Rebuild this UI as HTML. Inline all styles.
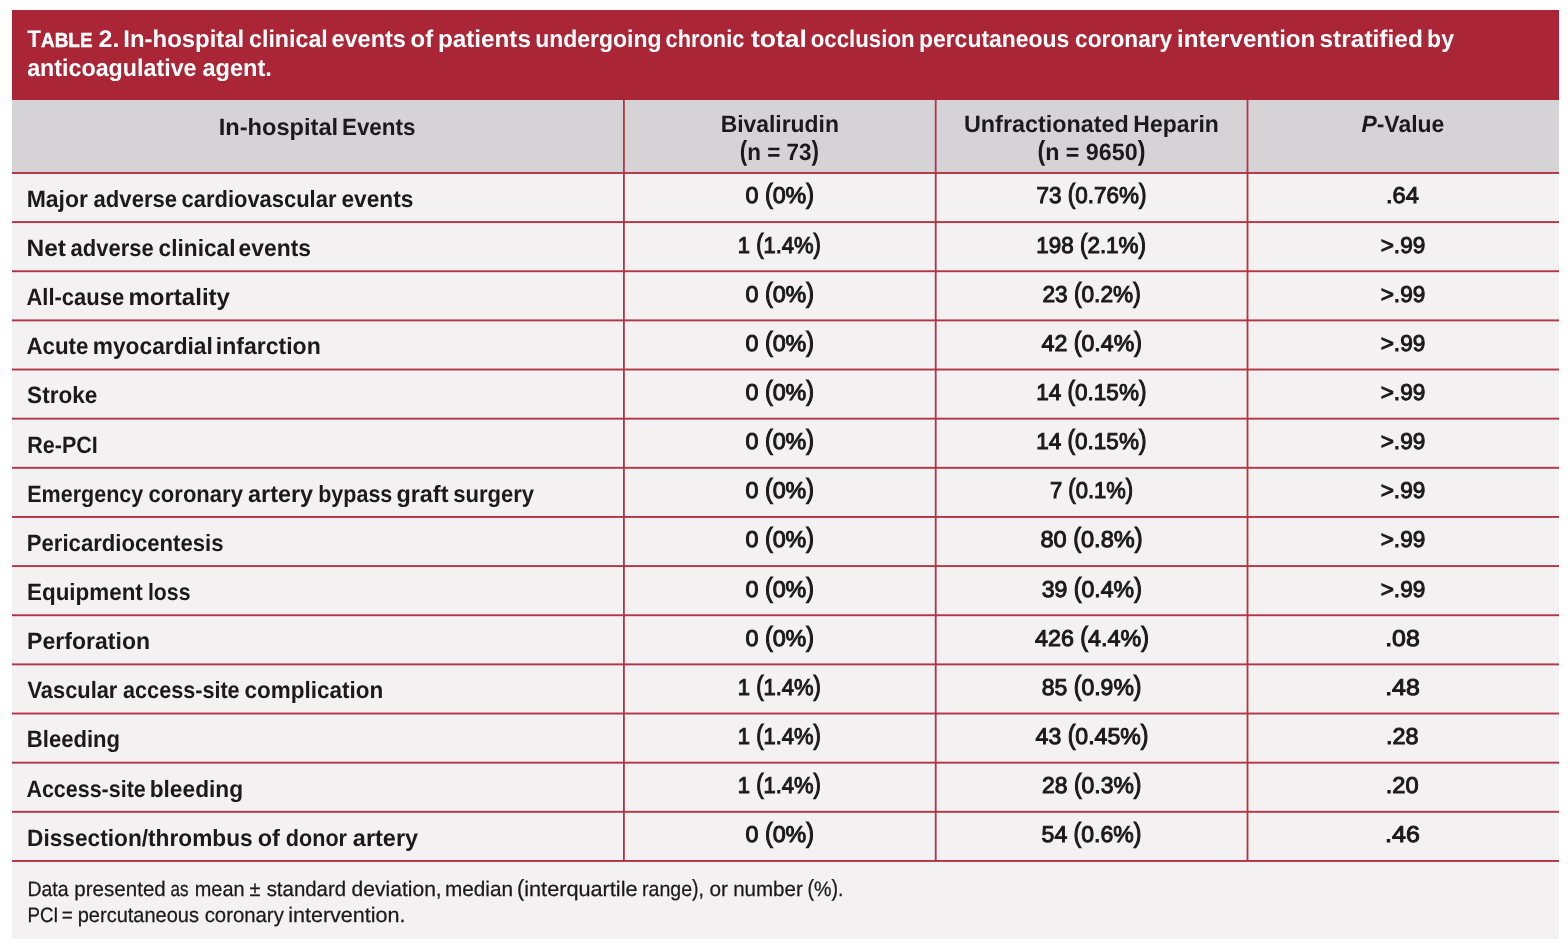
<!DOCTYPE html>
<html lang="en"><head><meta charset="utf-8"><title>Table 2</title>
<style>
html,body{margin:0;padding:0;background:#fff;}
body{width:1568px;height:950px;position:relative;overflow:hidden;font-family:"Liberation Sans",sans-serif;color:#1a1a1a;}
#bg{position:absolute;left:0;top:0;}
.t{position:absolute;white-space:nowrap;line-height:1;display:block;text-rendering:geometricPrecision;margin:0;padding:0;}
.l{transform-origin:0 50%;}
.c{transform-origin:50% 50%;}
.b{font-weight:bold;}
.w{color:#fff;}
.r{font-weight:normal;-webkit-text-stroke:0.25px #1a1a1a;}
.m{font-weight:normal;-webkit-text-stroke:1.0px #1a1a1a;}
.pr{display:inline-block;line-height:1;transform-origin:50% 84.65%;transform:scaleY(1.2);}
.b .pr{transform:scaleY(1.17);}
.r .pr{transform:scaleY(1.12);}
.sc{font-size:0.84em;-webkit-text-stroke:0.45px #fff;}
</style></head><body>
<svg id="bg" width="1568" height="950" viewBox="0 0 1568 950"><rect x="12" y="100" width="1547" height="839" fill="#F3F1F2"/><rect x="12" y="100" width="1547" height="73" fill="#D5D3D6"/><rect x="12" y="10" width="1547" height="90" fill="#AA2535"/><rect x="623.00" y="100" width="1.8" height="761" fill="#B33445"/><rect x="934.80" y="100" width="1.8" height="761" fill="#B33445"/><rect x="1246.60" y="100" width="1.8" height="761" fill="#B33445"/><rect x="12" y="172.00" width="1547" height="1.9" fill="#B33445"/><rect x="12" y="221.14" width="1547" height="1.9" fill="#B33445"/><rect x="12" y="270.29" width="1547" height="1.9" fill="#B33445"/><rect x="12" y="319.43" width="1547" height="1.9" fill="#B33445"/><rect x="12" y="368.57" width="1547" height="1.9" fill="#B33445"/><rect x="12" y="417.71" width="1547" height="1.9" fill="#B33445"/><rect x="12" y="466.86" width="1547" height="1.9" fill="#B33445"/><rect x="12" y="516.00" width="1547" height="1.9" fill="#B33445"/><rect x="12" y="565.14" width="1547" height="1.9" fill="#B33445"/><rect x="12" y="614.29" width="1547" height="1.9" fill="#B33445"/><rect x="12" y="663.43" width="1547" height="1.9" fill="#B33445"/><rect x="12" y="712.57" width="1547" height="1.9" fill="#B33445"/><rect x="12" y="761.71" width="1547" height="1.9" fill="#B33445"/><rect x="12" y="810.86" width="1547" height="1.9" fill="#B33445"/><rect x="12" y="860.00" width="1547" height="1.9" fill="#B33445"/></svg>
<div id="t1_0" class="t l p0 b w" style="left:27px;top:28px;font-size:24.1px;transform:translateX(0.32px) scaleX(0.9341);"><span class="T">T</span><span class="sc">ABLE</span></div>
<div id="t1_1" class="t l p1 b w" style="left:98px;top:28px;font-size:24.1px;transform:translateX(0.55px) scaleX(1.0354);">2.</div>
<div id="t1_2" class="t l p0 b w" style="left:123px;top:28px;font-size:24.1px;transform:translateX(0.33px) scaleX(0.9921);">In-hospital</div>
<div id="t1_3" class="t l p1 b w" style="left:249px;top:28px;font-size:24.1px;transform:translateX(0.05px) scaleX(0.9638);">clinical</div>
<div id="t1_4" class="t l p0 b w" style="left:331px;top:28px;font-size:24.1px;transform:translateX(0.44px) scaleX(0.9755);">events</div>
<div id="t1_5" class="t l p1 b w" style="left:410px;top:28px;font-size:24.1px;transform:translateX(0.54px) scaleX(0.9914);">of</div>
<div id="t1_6" class="t l p0 b w" style="left:437px;top:28px;font-size:24.1px;transform:translateX(0.91px) scaleX(1.0068);">patients</div>
<div id="t1_7" class="t l p1 b w" style="left:535px;top:28px;font-size:24.1px;transform:translateX(0.15px) scaleX(0.9533);">undergoing</div>
<div id="t1_8" class="t l p0 b w" style="left:665px;top:28px;font-size:24.1px;transform:translateX(0.61px) scaleX(0.9045);">chronic</div>
<div id="t1_9" class="t l p1 b w" style="left:751px;top:28px;font-size:24.1px;transform:translateX(0.00px) scaleX(1.0974);">total</div>
<div id="t1_10" class="t l p0 b w" style="left:810px;top:28px;font-size:24.1px;transform:translateX(0.78px) scaleX(0.9227);">occlusion</div>
<div id="t1_11" class="t l p1 b w" style="left:918px;top:28px;font-size:24.1px;transform:translateX(0.93px) scaleX(0.9519);">percutaneous</div>
<div id="t1_12" class="t l p0 b w" style="left:1075px;top:28px;font-size:24.1px;transform:translateX(0.12px) scaleX(0.9415);">coronary</div>
<div id="t1_13" class="t l p1 b w" style="left:1177px;top:28px;font-size:24.1px;transform:translateX(0.11px) scaleX(1.0027);">intervention</div>
<div id="t1_14" class="t l p0 b w" style="left:1319px;top:28px;font-size:24.1px;transform:translateX(0.47px) scaleX(1.0161);">stratified</div>
<div id="t1_15" class="t l p1 b w" style="left:1427px;top:28px;font-size:24.1px;transform:translateX(0.11px) scaleX(0.9540);">by</div>
<div id="t2_0" class="t l p0 b w" style="left:27px;top:57px;font-size:24.1px;transform:translateX(0.18px) scaleX(0.9655);">anticoagulative</div>
<div id="t2_1" class="t l p1 b w" style="left:202px;top:57px;font-size:24.1px;transform:translateX(0.38px) scaleX(0.9791);">agent.</div>
<div id="h1_0" class="t l p0 b" style="left:218px;top:117px;font-size:23.6px;transform:translateX(0.69px) scaleX(1.0017);">In-hospital</div>
<div id="h1_1" class="t l p1 b" style="left:341px;top:117px;font-size:23.6px;transform:translateX(0.90px) scaleX(0.9516);">Events</div>
<div id="h2a" class="t c p0 b" style="left:779px;top:114px;font-size:23.6px;transform:translateX(-50%) translateX(0.78px) scaleX(0.9700);">Bivalirudin</div>
<div id="h2b" class="t c p1 b" style="left:779px;top:142px;font-size:23.6px;transform:translateX(-50%) translateX(0.31px) scaleX(0.9513);"><span class="pr">(</span>n = 73<span class="pr">)</span></div>
<div id="h3a_0" class="t l p0 b" style="left:964px;top:114px;font-size:23.6px;transform:translateX(0.00px) scaleX(0.9895);">Unfractionated</div>
<div id="h3a_1" class="t l p1 b" style="left:1133px;top:114px;font-size:23.6px;transform:translateX(0.33px) scaleX(0.9731);">Heparin</div>
<div id="h3b" class="t c p0 b" style="left:1091px;top:142px;font-size:23.6px;transform:translateX(-50%) translateX(0.39px) scaleX(0.9861);"><span class="pr">(</span>n = 9650<span class="pr">)</span></div>
<div id="h4" class="t c p1 b" style="left:1402px;top:114px;font-size:23.6px;transform:translateX(-50%) translateX(0.87px) scaleX(0.9729);"><i>P</i>-Value</div>
<div id="r0a_0" class="t l p0 b" style="left:26px;top:189px;font-size:23.6px;transform:translateX(0.65px) scaleX(0.9749);">Major</div>
<div id="r0a_1" class="t l p1 b" style="left:93px;top:189px;font-size:23.6px;transform:translateX(0.56px) scaleX(0.9366);">adverse</div>
<div id="r0a_2" class="t l p0 b" style="left:181px;top:189px;font-size:23.6px;transform:translateX(0.55px) scaleX(0.9300);">cardiovascular</div>
<div id="r0a_3" class="t l p1 b" style="left:341px;top:189px;font-size:23.6px;transform:translateX(0.40px) scaleX(0.9620);">events</div>
<div id="r0b" class="t c p0 m" style="left:779px;top:184px;font-size:22.9px;transform:translateX(-50%) translateX(0.78px) scaleX(1.0185);">0 <span class="pr">(</span>0%<span class="pr">)</span></div>
<div id="r0c" class="t c p1 m" style="left:1091px;top:184px;font-size:22.9px;transform:translateX(-50%) translateX(0.56px) scaleX(0.9818);">73 <span class="pr">(</span>0.76%<span class="pr">)</span></div>
<div id="r0d" class="t c p0 m" style="left:1402px;top:184px;font-size:22.9px;transform:translateX(-50%) translateX(0.46px) scaleX(1.0326);">.64</div>
<div id="r1a_0" class="t l p1 b" style="left:26px;top:238px;font-size:23.6px;transform:translateX(0.48px) scaleX(1.0381);">Net</div>
<div id="r1a_1" class="t l p0 b" style="left:70px;top:238px;font-size:23.6px;transform:translateX(0.54px) scaleX(0.9327);">adverse</div>
<div id="r1a_2" class="t l p1 b" style="left:158px;top:238px;font-size:23.6px;transform:translateX(0.60px) scaleX(0.9609);">clinical</div>
<div id="r1a_3" class="t l p0 b" style="left:238px;top:238px;font-size:23.6px;transform:translateX(0.59px) scaleX(0.9677);">events</div>
<div id="r1b" class="t c p1 m" style="left:779px;top:234px;font-size:22.9px;transform:translateX(-50%) translateX(0.33px) scaleX(0.9599);">1 <span class="pr">(</span>1.4%<span class="pr">)</span></div>
<div id="r1c" class="t c p0 m" style="left:1091px;top:234px;font-size:22.9px;transform:translateX(-50%) translateX(0.16px) scaleX(0.9791);">198 <span class="pr">(</span>2.1%<span class="pr">)</span></div>
<div id="r1d" class="t c p1 m" style="left:1402px;top:234px;font-size:22.9px;transform:translateX(-50%) translateX(0.98px) scaleX(0.9875);">&gt;.99</div>
<div id="r2a_0" class="t l p0 b" style="left:26px;top:287px;font-size:23.6px;transform:translateX(0.42px) scaleX(0.9321);">All-cause</div>
<div id="r2a_1" class="t l p1 b" style="left:128px;top:287px;font-size:23.6px;transform:translateX(0.43px) scaleX(1.0193);">mortality</div>
<div id="r2b" class="t c p0 m" style="left:779px;top:283px;font-size:22.9px;transform:translateX(-50%) translateX(0.78px) scaleX(1.0185);">0 <span class="pr">(</span>0%<span class="pr">)</span></div>
<div id="r2c" class="t c p1 m" style="left:1091px;top:283px;font-size:22.9px;transform:translateX(-50%) translateX(0.59px) scaleX(0.9906);">23 <span class="pr">(</span>0.2%<span class="pr">)</span></div>
<div id="r2d" class="t c p0 m" style="left:1402px;top:283px;font-size:22.9px;transform:translateX(-50%) translateX(0.98px) scaleX(0.9875);">&gt;.99</div>
<div id="r3a_0" class="t l p1 b" style="left:26px;top:336px;font-size:23.6px;transform:translateX(0.39px) scaleX(0.9450);">Acute</div>
<div id="r3a_1" class="t l p0 b" style="left:92px;top:336px;font-size:23.6px;transform:translateX(0.76px) scaleX(0.9637);">myocardial</div>
<div id="r3a_2" class="t l p1 b" style="left:215px;top:336px;font-size:23.6px;transform:translateX(0.82px) scaleX(0.9762);">infarction</div>
<div id="r3b" class="t c p0 m" style="left:779px;top:332px;font-size:22.9px;transform:translateX(-50%) translateX(0.78px) scaleX(1.0185);">0 <span class="pr">(</span>0%<span class="pr">)</span></div>
<div id="r3c" class="t c p1 m" style="left:1091px;top:332px;font-size:22.9px;transform:translateX(-50%) translateX(0.78px) scaleX(1.0107);">42 <span class="pr">(</span>0.4%<span class="pr">)</span></div>
<div id="r3d" class="t c p0 m" style="left:1402px;top:332px;font-size:22.9px;transform:translateX(-50%) translateX(0.98px) scaleX(0.9875);">&gt;.99</div>
<div id="r4a_0" class="t l p1 b" style="left:27px;top:385px;font-size:23.6px;transform:translateX(0.08px) scaleX(0.9571);">Stroke</div>
<div id="r4b" class="t c p0 m" style="left:779px;top:381px;font-size:22.9px;transform:translateX(-50%) translateX(0.78px) scaleX(1.0185);">0 <span class="pr">(</span>0%<span class="pr">)</span></div>
<div id="r4c" class="t c p1 m" style="left:1091px;top:381px;font-size:22.9px;transform:translateX(-50%) translateX(0.35px) scaleX(0.9829);">14 <span class="pr">(</span>0.15%<span class="pr">)</span></div>
<div id="r4d" class="t c p0 m" style="left:1402px;top:381px;font-size:22.9px;transform:translateX(-50%) translateX(0.98px) scaleX(0.9875);">&gt;.99</div>
<div id="r5a_0" class="t l p1 b" style="left:27px;top:435px;font-size:23.6px;transform:translateX(0.27px) scaleX(0.9118);">Re-PCI</div>
<div id="r5b" class="t c p0 m" style="left:779px;top:430px;font-size:22.9px;transform:translateX(-50%) translateX(0.78px) scaleX(1.0185);">0 <span class="pr">(</span>0%<span class="pr">)</span></div>
<div id="r5c" class="t c p1 m" style="left:1091px;top:430px;font-size:22.9px;transform:translateX(-50%) translateX(0.35px) scaleX(0.9829);">14 <span class="pr">(</span>0.15%<span class="pr">)</span></div>
<div id="r5d" class="t c p0 m" style="left:1402px;top:430px;font-size:22.9px;transform:translateX(-50%) translateX(0.98px) scaleX(0.9875);">&gt;.99</div>
<div id="r6a_0" class="t l p1 b" style="left:27px;top:484px;font-size:23.6px;transform:translateX(0.25px) scaleX(0.9119);">Emergency</div>
<div id="r6a_1" class="t l p0 b" style="left:148px;top:484px;font-size:23.6px;transform:translateX(0.58px) scaleX(0.9344);">coronary</div>
<div id="r6a_2" class="t l p1 b" style="left:247px;top:484px;font-size:23.6px;transform:translateX(0.99px) scaleX(0.9928);">artery</div>
<div id="r6a_3" class="t l p0 b" style="left:318px;top:484px;font-size:23.6px;transform:translateX(0.14px) scaleX(0.9124);">bypass</div>
<div id="r6a_4" class="t l p1 b" style="left:396px;top:484px;font-size:23.6px;transform:translateX(0.38px) scaleX(0.9930);">graft</div>
<div id="r6a_5" class="t l p0 b" style="left:453px;top:484px;font-size:23.6px;transform:translateX(0.18px) scaleX(0.9351);">surgery</div>
<div id="r6b" class="t c p1 m" style="left:779px;top:479px;font-size:22.9px;transform:translateX(-50%) translateX(0.78px) scaleX(1.0185);">0 <span class="pr">(</span>0%<span class="pr">)</span></div>
<div id="r6c" class="t c p0 m" style="left:1091px;top:479px;font-size:22.9px;transform:translateX(-50%) translateX(0.58px) scaleX(0.9617);">7 <span class="pr">(</span>0.1%<span class="pr">)</span></div>
<div id="r6d" class="t c p1 m" style="left:1402px;top:479px;font-size:22.9px;transform:translateX(-50%) translateX(0.98px) scaleX(0.9875);">&gt;.99</div>
<div id="r7a_0" class="t l p0 b" style="left:26px;top:533px;font-size:23.6px;transform:translateX(0.80px) scaleX(0.9375);">Pericardiocentesis</div>
<div id="r7b" class="t c p1 m" style="left:779px;top:528px;font-size:22.9px;transform:translateX(-50%) translateX(0.78px) scaleX(1.0185);">0 <span class="pr">(</span>0%<span class="pr">)</span></div>
<div id="r7c" class="t c p0 m" style="left:1091px;top:528px;font-size:22.9px;transform:translateX(-50%) translateX(0.48px) scaleX(1.0291);">80 <span class="pr">(</span>0.8%<span class="pr">)</span></div>
<div id="r7d" class="t c p1 m" style="left:1402px;top:528px;font-size:22.9px;transform:translateX(-50%) translateX(0.98px) scaleX(0.9875);">&gt;.99</div>
<div id="r8a_0" class="t l p0 b" style="left:27px;top:582px;font-size:23.6px;transform:translateX(0.05px) scaleX(0.9498);">Equipment</div>
<div id="r8a_1" class="t l p1 b" style="left:147px;top:582px;font-size:23.6px;transform:translateX(0.92px) scaleX(0.9016);">loss</div>
<div id="r8b" class="t c p0 m" style="left:779px;top:578px;font-size:22.9px;transform:translateX(-50%) translateX(0.78px) scaleX(1.0185);">0 <span class="pr">(</span>0%<span class="pr">)</span></div>
<div id="r8c" class="t c p1 m" style="left:1091px;top:578px;font-size:22.9px;transform:translateX(-50%) translateX(0.73px) scaleX(1.0093);">39 <span class="pr">(</span>0.4%<span class="pr">)</span></div>
<div id="r8d" class="t c p0 m" style="left:1402px;top:578px;font-size:22.9px;transform:translateX(-50%) translateX(0.98px) scaleX(0.9875);">&gt;.99</div>
<div id="r9a_0" class="t l p1 b" style="left:27px;top:631px;font-size:23.6px;transform:translateX(0.09px) scaleX(0.9770);">Perforation</div>
<div id="r9b" class="t c p0 m" style="left:779px;top:627px;font-size:22.9px;transform:translateX(-50%) translateX(0.78px) scaleX(1.0185);">0 <span class="pr">(</span>0%<span class="pr">)</span></div>
<div id="r9c" class="t c p1 m" style="left:1091px;top:627px;font-size:22.9px;transform:translateX(-50%) translateX(0.94px) scaleX(1.0172);">426 <span class="pr">(</span>4.4%<span class="pr">)</span></div>
<div id="r9d" class="t c p0 m" style="left:1402px;top:627px;font-size:22.9px;transform:translateX(-50%) translateX(0.48px) scaleX(1.0857);">.08</div>
<div id="r10a_0" class="t l p1 b" style="left:27px;top:680px;font-size:23.6px;transform:translateX(0.49px) scaleX(0.9259);">Vascular</div>
<div id="r10a_1" class="t l p0 b" style="left:123px;top:680px;font-size:23.6px;transform:translateX(0.06px) scaleX(0.9162);">access-site</div>
<div id="r10a_2" class="t l p1 b" style="left:244px;top:680px;font-size:23.6px;transform:translateX(0.41px) scaleX(0.9535);">complication</div>
<div id="r10b" class="t c p0 m" style="left:779px;top:676px;font-size:22.9px;transform:translateX(-50%) translateX(0.33px) scaleX(0.9599);">1 <span class="pr">(</span>1.4%<span class="pr">)</span></div>
<div id="r10c" class="t c p1 m" style="left:1091px;top:676px;font-size:22.9px;transform:translateX(-50%) translateX(0.65px) scaleX(1.0046);">85 <span class="pr">(</span>0.9%<span class="pr">)</span></div>
<div id="r10d" class="t c p0 m" style="left:1402px;top:676px;font-size:22.9px;transform:translateX(-50%) translateX(0.48px) scaleX(1.0857);">.48</div>
<div id="r11a_0" class="t l p1 b" style="left:26px;top:729px;font-size:23.6px;transform:translateX(0.80px) scaleX(0.9367);">Bleeding</div>
<div id="r11b" class="t c p0 m" style="left:779px;top:725px;font-size:22.9px;transform:translateX(-50%) translateX(0.33px) scaleX(0.9599);">1 <span class="pr">(</span>1.4%<span class="pr">)</span></div>
<div id="r11c" class="t c p1 m" style="left:1091px;top:725px;font-size:22.9px;transform:translateX(-50%) translateX(0.98px) scaleX(1.0077);">43 <span class="pr">(</span>0.45%<span class="pr">)</span></div>
<div id="r11d" class="t c p0 m" style="left:1402px;top:725px;font-size:22.9px;transform:translateX(-50%) translateX(0.37px) scaleX(1.0226);">.28</div>
<div id="r12a_0" class="t l p1 b" style="left:26px;top:779px;font-size:23.6px;transform:translateX(0.40px) scaleX(0.9101);">Access-site</div>
<div id="r12a_1" class="t l p0 b" style="left:149px;top:779px;font-size:23.6px;transform:translateX(0.66px) scaleX(0.9632);">bleeding</div>
<div id="r12b" class="t c p1 m" style="left:779px;top:774px;font-size:22.9px;transform:translateX(-50%) translateX(0.33px) scaleX(0.9599);">1 <span class="pr">(</span>1.4%<span class="pr">)</span></div>
<div id="r12c" class="t c p0 m" style="left:1091px;top:774px;font-size:22.9px;transform:translateX(-50%) translateX(0.76px) scaleX(1.0010);">28 <span class="pr">(</span>0.3%<span class="pr">)</span></div>
<div id="r12d" class="t c p1 m" style="left:1402px;top:774px;font-size:22.9px;transform:translateX(-50%) translateX(0.20px) scaleX(1.0317);">.20</div>
<div id="r13a_0" class="t l p0 b" style="left:27px;top:828px;font-size:23.6px;transform:translateX(0.07px) scaleX(0.9613);">Dissection/thrombus</div>
<div id="r13a_1" class="t l p1 b" style="left:257px;top:828px;font-size:23.6px;transform:translateX(0.66px) scaleX(0.9995);">of</div>
<div id="r13a_2" class="t l p0 b" style="left:285px;top:828px;font-size:23.6px;transform:translateX(0.87px) scaleX(0.9149);">donor</div>
<div id="r13a_3" class="t l p1 b" style="left:352px;top:828px;font-size:23.6px;transform:translateX(0.87px) scaleX(0.9945);">artery</div>
<div id="r13b" class="t c p0 m" style="left:779px;top:823px;font-size:22.9px;transform:translateX(-50%) translateX(0.78px) scaleX(1.0185);">0 <span class="pr">(</span>0%<span class="pr">)</span></div>
<div id="r13c" class="t c p1 m" style="left:1091px;top:823px;font-size:22.9px;transform:translateX(-50%) translateX(0.52px) scaleX(1.0055);">54 <span class="pr">(</span>0.6%<span class="pr">)</span></div>
<div id="r13d" class="t c p0 m" style="left:1402px;top:823px;font-size:22.9px;transform:translateX(-50%) translateX(0.42px) scaleX(1.0917);">.46</div>
<div id="f1_0" class="t l p1 r" style="left:27px;top:880px;font-size:20.9px;transform:translateX(0.40px) scaleX(0.9340);">Data</div>
<div id="f1_1" class="t l p0 r" style="left:74px;top:880px;font-size:20.9px;transform:translateX(0.34px) scaleX(0.9837);">presented</div>
<div id="f1_2" class="t l p1 r" style="left:170px;top:880px;font-size:20.9px;transform:translateX(0.49px) scaleX(0.8146);">as</div>
<div id="f1_3" class="t l p0 r" style="left:194px;top:880px;font-size:20.9px;transform:translateX(0.78px) scaleX(0.9520);">mean</div>
<div id="f1_4" class="t l p1 r" style="left:249px;top:880px;font-size:20.9px;transform:translateX(0.47px) scaleX(0.9556);">±</div>
<div id="f1_5" class="t l p0 r" style="left:266px;top:880px;font-size:20.9px;transform:translateX(0.63px) scaleX(0.9777);">standard</div>
<div id="f1_6" class="t l p1 r" style="left:351px;top:880px;font-size:20.9px;transform:translateX(0.61px) scaleX(1.0074);">deviation,</div>
<div id="f1_7" class="t l p0 r" style="left:444px;top:880px;font-size:20.9px;transform:translateX(0.99px) scaleX(0.9933);">median</div>
<div id="f1_8" class="t l p1 r" style="left:517px;top:880px;font-size:20.9px;transform:translateX(0.00px) scaleX(1.0378);"><span class="pr">(</span>interquartile</div>
<div id="f1_9" class="t l p0 r" style="left:642px;top:880px;font-size:20.9px;transform:translateX(0.09px) scaleX(0.9358);">range<span class="pr">)</span>,</div>
<div id="f1_10" class="t l p1 r" style="left:709px;top:880px;font-size:20.9px;transform:translateX(0.38px) scaleX(0.9948);">or</div>
<div id="f1_11" class="t l p0 r" style="left:733px;top:880px;font-size:20.9px;transform:translateX(0.14px) scaleX(0.9834);">number</div>
<div id="f1_12" class="t l p1 r" style="left:807px;top:880px;font-size:20.9px;transform:translateX(0.49px) scaleX(0.9416);"><span class="pr">(</span>%<span class="pr">)</span>.</div>
<div id="f2_0" class="t l p0 r" style="left:27px;top:906px;font-size:20.9px;transform:translateX(0.45px) scaleX(0.8919);">PCI</div>
<div id="f2_1" class="t l p1 r" style="left:61px;top:906px;font-size:20.9px;transform:translateX(0.66px) scaleX(0.9057);">=</div>
<div id="f2_2" class="t l p0 r" style="left:77px;top:906px;font-size:20.9px;transform:translateX(0.72px) scaleX(0.9574);">percutaneous</div>
<div id="f2_3" class="t l p1 r" style="left:204px;top:906px;font-size:20.9px;transform:translateX(0.65px) scaleX(0.9740);">coronary</div>
<div id="f2_4" class="t l p0 r" style="left:288px;top:906px;font-size:20.9px;transform:translateX(0.13px) scaleX(1.0316);">intervention.</div>
</body></html>
